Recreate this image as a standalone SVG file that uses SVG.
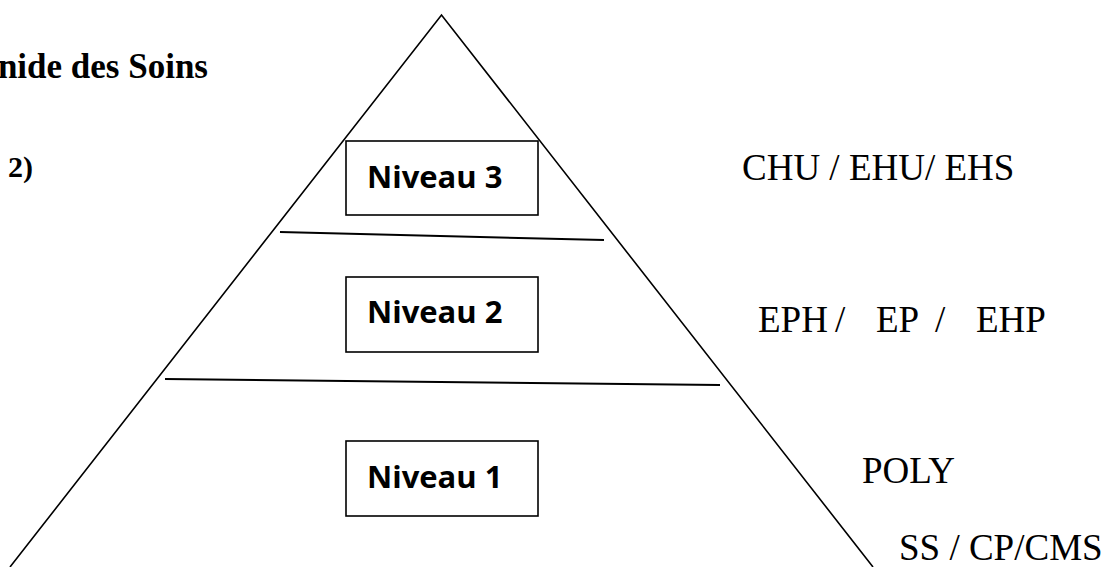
<svg xmlns="http://www.w3.org/2000/svg" width="1105" height="567" viewBox="0 0 1105 567">
<style>
.edge{fill:none;stroke:#000;stroke-width:1.6}
.sep{fill:none;stroke:#000;stroke-width:2}
.box{fill:#fff;stroke:#000;stroke-width:1.6}
.lvl{font-family:"Open Sans","Liberation Sans",sans-serif;font-weight:bold;font-size:31px;fill:#000}
.lab{font-family:"Liberation Serif","Times New Roman",serif;font-size:37px;fill:#000}
.ttl{font-family:"Liberation Serif","Times New Roman",serif;font-weight:bold;fill:#000}
</style>
<rect width="1105" height="567" fill="#fff"/>
<text class="ttl" x="208" y="78" font-size="35" text-anchor="end">nide des Soins</text>
<text class="ttl" x="8" y="177" font-size="30">2)</text>
<g id="connectors">
<polyline class="edge" points="10,567 441.5,15 873,567"/>
<line class="sep" x1="280" y1="232" x2="604" y2="240"/>
<line class="sep" x1="165" y1="379" x2="720" y2="385"/>
</g>
<g id="niveau3">
<rect class="box" x="346" y="141" width="192" height="74"/>
<text class="lvl" x="367" y="188">Niveau 3</text>
</g>
<g id="niveau2">
<rect class="box" x="346" y="277" width="192" height="75"/>
<text class="lvl" x="367" y="323">Niveau 2</text>
</g>
<g id="niveau1">
<rect class="box" x="346" y="441" width="192" height="75"/>
<text class="lvl" x="367" y="488">Niveau 1</text>
</g>
<g id="labels">
<text class="lab" x="742" y="180">CHU / EHU/ EHS</text>
<text class="lab" y="332"><tspan x="758">EPH</tspan><tspan x="835">/</tspan><tspan x="876">EP</tspan><tspan x="935">/</tspan><tspan x="976">EHP</tspan></text>
<text class="lab" x="862" y="483">POLY</text>
<text class="lab" x="899" y="560">SS / CP/CMS</text>
</g>
</svg>
